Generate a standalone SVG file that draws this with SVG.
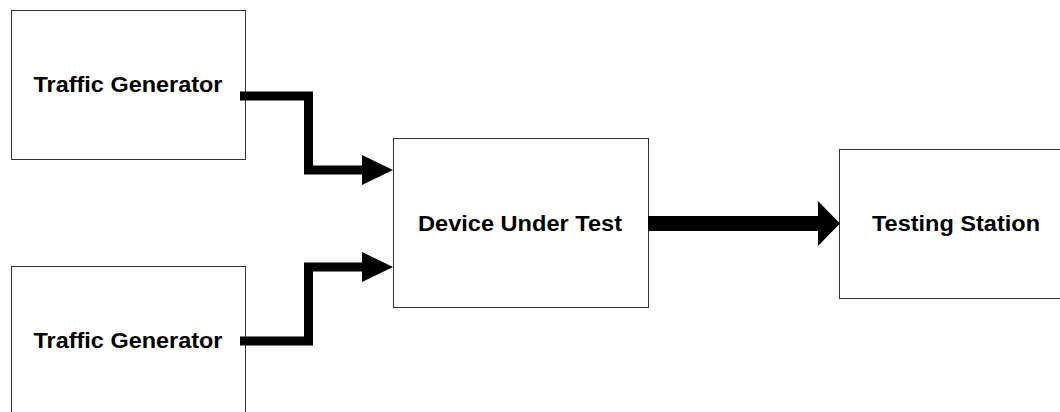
<svg xmlns="http://www.w3.org/2000/svg" width="1060" height="412" viewBox="0 0 1060 412">
<style>
.box{fill:#fff;stroke:#333;stroke-width:1}
.lbl{font-family:"Liberation Sans",Arial,sans-serif;font-weight:bold;font-size:22px;fill:#000;text-anchor:middle}
.wire{fill:none;stroke:#000;stroke-linejoin:miter;stroke-linecap:butt}
.head{fill:#000;stroke:none}
</style>
<rect width="1060" height="412" fill="#fff"/>
<g id="tg1">
<rect class="box" x="11.5" y="10.5" width="234" height="149"/>
<text class="lbl" x="128" y="92" textLength="189" lengthAdjust="spacingAndGlyphs">Traffic Generator</text>
</g>
<g id="tg2">
<rect class="box" x="11.5" y="266.5" width="234" height="149"/>
<text class="lbl" x="128" y="348" textLength="189" lengthAdjust="spacingAndGlyphs">Traffic Generator</text>
</g>
<g id="dut">
<rect class="box" x="393.5" y="138.5" width="255" height="169"/>
<text class="lbl" x="520" y="231" textLength="204" lengthAdjust="spacingAndGlyphs">Device Under Test</text>
</g>
<g id="ts">
<rect class="box" x="839.5" y="149.5" width="234" height="149"/>
<text class="lbl" x="956" y="231" textLength="168" lengthAdjust="spacingAndGlyphs">Testing Station</text>
</g>
<g id="connectors">
<path class="wire" stroke-width="9" d="M240,96 H308.5 V170 H363"/>
<polygon class="head" points="362,155 393,170 362,185"/>
<path class="wire" stroke-width="9" d="M240,341 H308.5 V267 H363"/>
<polygon class="head" points="362,252 393,267 362,282"/>
<path class="wire" stroke-width="15" d="M648,223.5 H819"/>
<polygon class="head" points="818,201 840,223.5 818,246"/>
</g>
</svg>
